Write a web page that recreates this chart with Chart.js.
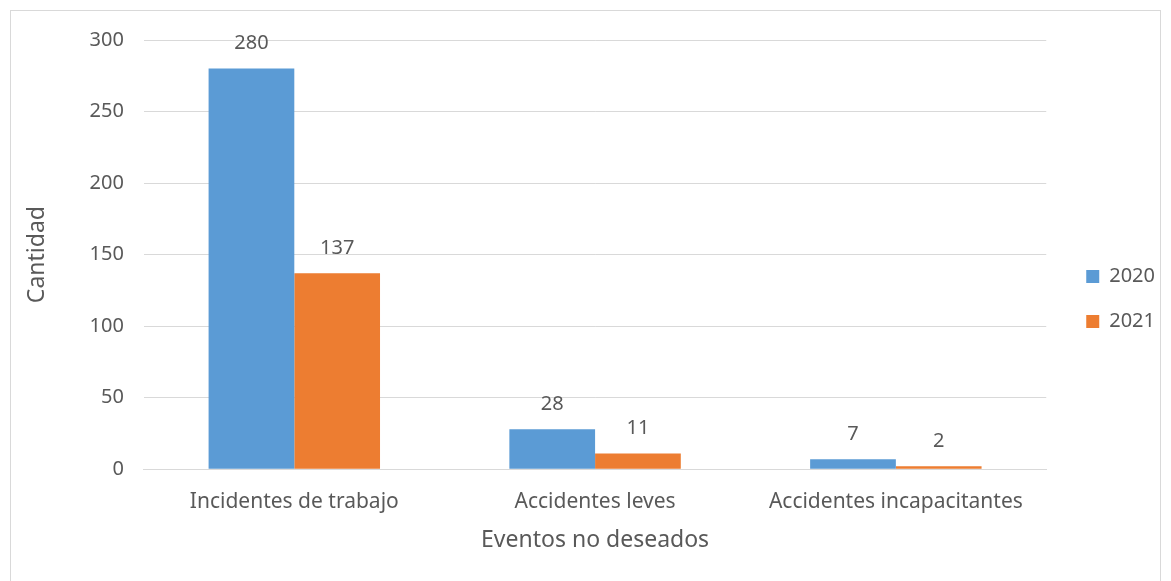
<!DOCTYPE html>
<html>
<head>
<meta charset="utf-8">
<script src="https://cdn.jsdelivr.net/npm/chart.js@4"></script>
<style>
  html, body { margin: 0; padding: 0; background: #fff; }
  #wrap { width: 1171px; height: 581px; }
</style>
</head>
<body>
<div id="wrap"><canvas id="c" width="1171" height="581"></canvas></div>
<script>
// chart data
const categories = ['Incidentes de trabajo', 'Accidentes leves', 'Accidentes incapacitantes'];
const values2020 = [280, 28, 7];
const values2021 = [137, 11, 2];
const seriesNames = ['2020', '2021'];

const FONT = '"Noto Sans", "Open Sans", sans-serif';
const TEXT = '#595959';

// frame around the whole chart
const framePlugin = {
  id: 'frame',
  beforeDraw(chart) {
    const ctx = chart.ctx;
    ctx.save();
    ctx.fillStyle = '#fff';
    ctx.fillRect(0, 0, chart.width, chart.height);
    ctx.strokeStyle = '#d9d9d9';
    ctx.lineWidth = 1;
    ctx.strokeRect(10.5, 10.5, chart.width - 21, chart.height);
    ctx.restore();
  }
};

// push the legend a bit further right, away from the plot
const legendShift = {
  id: 'legendShift',
  afterLayout(chart) {
    chart.legend.left += 15;
    chart.legend.right += 15;
  }
};

// value labels above the bars
const valueLabels = {
  id: 'valueLabels',
  afterDatasetsDraw(chart) {
    const ctx = chart.ctx;
    ctx.save();
    ctx.font = '20px ' + FONT;
    ctx.fillStyle = TEXT;
    ctx.textAlign = 'center';
    ctx.textBaseline = 'middle';
    chart.data.datasets.forEach((ds, i) => {
      chart.getDatasetMeta(i).data.forEach((bar, j) => {
        ctx.fillText(ds.data[j], bar.x, bar.y - 25);
      });
    });
    ctx.restore();
  }
};

new Chart(document.getElementById('c'), {
  type: 'bar',
  data: {
    labels: categories,
    datasets: [
      { label: seriesNames[0], data: values2020, backgroundColor: '#5b9bd5' },
      { label: seriesNames[1], data: values2021, backgroundColor: '#ed7d31' }
    ]
  },
  options: {
    responsive: false,
    animation: false,
    layout: { padding: { top: 40, left: 20, right: 21, bottom: 23 } },
    datasets: {
      bar: { categoryPercentage: 0.57, barPercentage: 1 }
    },
    plugins: {
      legend: {
        position: 'right',
        labels: {
          boxWidth: 13,
          boxHeight: 13,
          padding: 25,
          color: TEXT,
          font: { family: FONT, size: 20 }
        }
      },
      tooltip: { enabled: false }
    },
    scales: {
      x: {
        grid: { display: false },
        border: { color: '#d9d9d9' },
        ticks: { color: TEXT, font: { family: FONT, size: 21 }, padding: 12 },
        title: {
          display: true,
          text: 'Eventos no deseados',
          color: TEXT,
          font: { family: FONT, size: 23 },
          padding: { top: 0 }
        }
      },
      y: {
        min: 0,
        max: 300,
        ticks: { stepSize: 50, color: TEXT, font: { family: FONT, size: 20 }, padding: 20 },
        grid: { color: '#d9d9d9', drawTicks: false },
        border: { display: false },
        title: {
          display: true,
          text: 'Cantidad',
          color: TEXT,
          font: { family: FONT, size: 23 },
          padding: { bottom: 18 }
        }
      }
    }
  },
  plugins: [framePlugin, legendShift, valueLabels]
});
</script>
</body>
</html>
